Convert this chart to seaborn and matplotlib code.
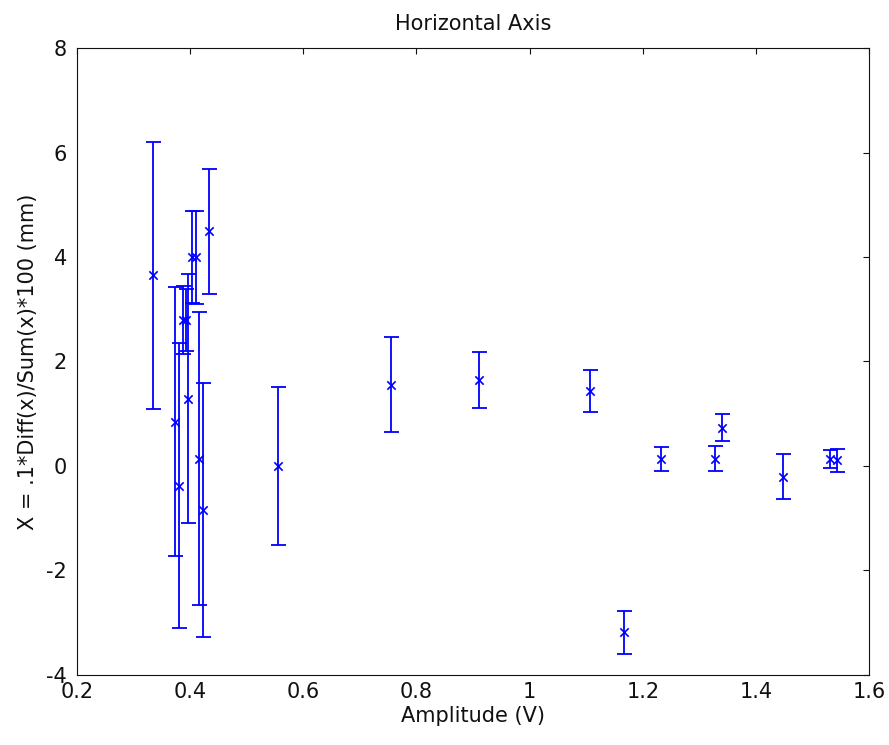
import numpy as np
import pandas as pd
import seaborn as sns
import matplotlib
matplotlib.use('Agg')
import matplotlib.pyplot as plt

# valores
amplitude = [0.335, 0.374, 0.381, 0.388, 0.393, 0.397, 0.404, 0.410, 0.416, 0.423, 0.433,
             0.555, 0.756, 0.910, 1.107, 1.167, 1.232, 1.328, 1.339, 1.447, 1.530, 1.543]
posicao = [3.65, 0.85, -0.38, 2.79, 2.79, 1.29, 4.00, 4.00, 0.14, -0.85, 4.49,
           0.00, 1.55, 1.64, 1.43, -3.19, 0.14, 0.14, 0.73, -0.21, 0.13, 0.11]
erro = [2.56, 2.57, 2.73, 0.65, 0.59, 2.38, 0.88, 0.89, 2.80, 2.43, 1.20,
        1.51, 0.91, 0.54, 0.40, 0.41, 0.23, 0.24, 0.26, 0.43, 0.17, 0.22]

xticks = [0.2, 0.4, 0.6, 0.8, 1.0, 1.2, 1.4, 1.6]
xticklabels = ['0.2', '0.4', '0.6', '0.8', '1', '1.2', '1.4', '1.6']
yticks = [-4, -2, 0, 2, 4, 6, 8]
yticklabels = ['-4', '-2', '0', '2', '4', '6', '8']

df = pd.DataFrame({'amp': amplitude, 'x': posicao, 'err': erro})

sns.set_style('white')
plt.rcParams['font.family'] = ['DejaVu Sans']
plt.rcParams['axes.unicode_minus'] = False
plt.rcParams['text.color'] = '#111111'
plt.rcParams['axes.labelcolor'] = '#111111'

fig = plt.figure(figsize=(8.89, 7.45), dpi=100)
ax = fig.add_axes([0.0863, 0.0944, 0.8915, 0.8408])

ax.errorbar(df['amp'], df['x'], yerr=df['err'], fmt='none', ecolor='#0000ff',
            elinewidth=1.3, capsize=5.4, capthick=1.3)
sns.scatterplot(data=df, x='amp', y='x', marker='x', color='#0000ff', s=36,
                linewidth=1.2, ax=ax, zorder=3)

ax.set_xlim(0.2, 1.6)
ax.set_ylim(-4, 8)
ax.set_xticks(xticks)
ax.set_xticklabels(xticklabels)
ax.set_yticks(yticks)
ax.set_yticklabels(yticklabels)

ax.tick_params(direction='in', length=4, width=0.8, top=True, right=True,
               labelsize=15, colors='#111111')
ax.tick_params(axis='y', pad=7)
ax.tick_params(axis='x', pad=5)
for s in ax.spines.values():
    s.set_visible(True)
    s.set_color('#111111')
    s.set_linewidth(0.8)

ax.set_title('Horizontal Axis', fontsize=15, pad=13)
ax.set_xlabel('Amplitude (V)', fontsize=15, labelpad=3)
ax.set_ylabel('X = .1*Diff(x)/Sum(x)*100 (mm)', fontsize=15, labelpad=6)

plt.savefig('out.png', dpi=100)
plt.close()
